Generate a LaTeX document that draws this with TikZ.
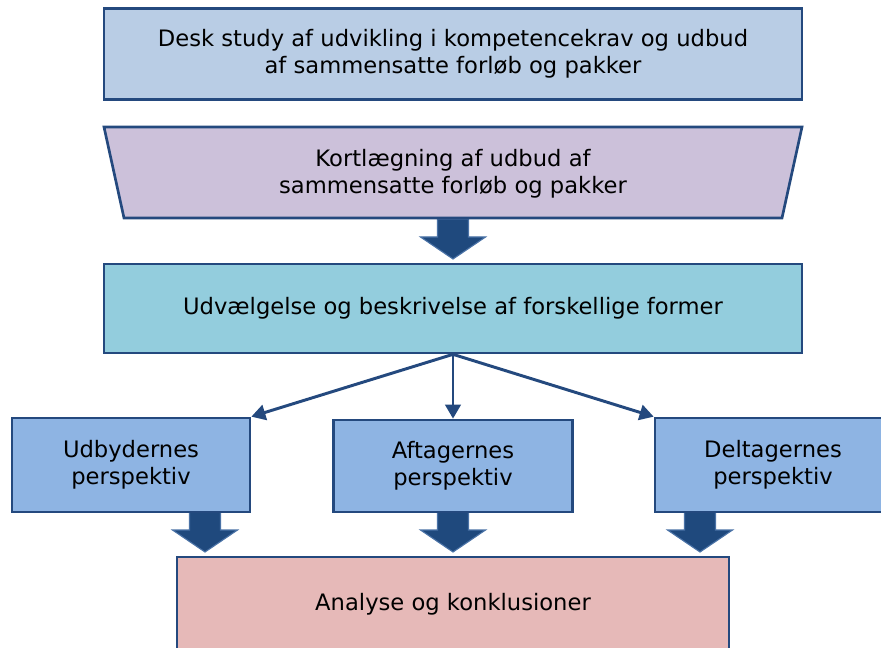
\documentclass[tikz,border=0pt]{standalone}
\usepackage{fontspec}
\setmainfont{DejaVu Sans}
\usetikzlibrary{arrows.meta}
\definecolor{kant}{HTML}{24497E}
\definecolor{pilfyld}{HTML}{1F497D}
\definecolor{pilkant}{HTML}{4A72A6}
\definecolor{deskblaa}{HTML}{B9CDE5}
\definecolor{lilla}{HTML}{CCC1DA}
\definecolor{turkis}{HTML}{93CDDD}
\definecolor{perspblaa}{HTML}{8EB4E3}
\definecolor{rosa}{HTML}{E6B9B8}
\def\px{0.025cm}
\begin{document}
\begin{tikzpicture}[x=0.025cm,y=-0.025cm,
  tekst/.style={align=center,text=black,font=\fontsize{16.1}{19.3}\selectfont},
  boks/.style={tekst,draw=kant,line width=1.9pt},
  pil/.style={draw=kant,line width=2.1pt,-{Triangle[length=10pt,width=11pt]}},
  blokpil/.pic={
    \filldraw[fill=pilfyld,draw=pilkant,line width=0.8pt]
      (-15.5,0) -- (15.5,0) -- (15.5,18) -- (32.5,18) -- (0,40)
      -- (-32.5,18) -- (-15.5,18) -- cycle;
  }]
  \useasboundingbox (0,0) rectangle (881,648);
  \clip (0,0) rectangle (881,648);

  % blokpile mellem trinene
  \pic at (453,219) {blokpil};
  \foreach \x in {205,453,700}{
    \pic at (\x,512) {blokpil};
  }

  % de tre trin foroven
  \node[boks,fill=deskblaa,minimum width=698*\px,minimum height=91*\px]
    (desk) at (453,54) {Desk study af udvikling i kompetencekrav og udbud\\af sammensatte forløb og pakker};
  \filldraw[fill=lilla,draw=kant,line width=1.9pt]
    (104,127) -- (802,127) -- (782,218) -- (124,218) -- cycle;
  \node[tekst] (kort) at (453,174) {Kortlægning af udbud af\\sammensatte forløb og pakker};
  \node[boks,fill=turkis,minimum width=698*\px,minimum height=89*\px]
    (udv) at (453,308.5) {Udvælgelse og beskrivelse af forskellige former};

  % perspektiverne
  \node[boks,fill=perspblaa,minimum width=238*\px,minimum height=94*\px]
    (udby) at (131,465) {Udbydernes\\perspektiv};
  \node[boks,fill=perspblaa,minimum width=239*\px,minimum height=92*\px]
    (aftag) at (453,466) {Aftagernes\\perspektiv};
  \node[boks,fill=perspblaa,minimum width=236*\px,minimum height=94*\px]
    (delt) at (773,465) {Deltagernes\\perspektiv};

  \node[boks,fill=rosa,minimum width=552*\px,minimum height=95*\px]
    (analyse) at (453,604.5) {Analyse og konklusioner};

  \draw[pil] (udv.south) -- (udby.north east);
  \draw[pil] (udv.south) -- (aftag.north);
  \draw[pil] (udv.south) -- (delt.north west);
\end{tikzpicture}
\end{document}
